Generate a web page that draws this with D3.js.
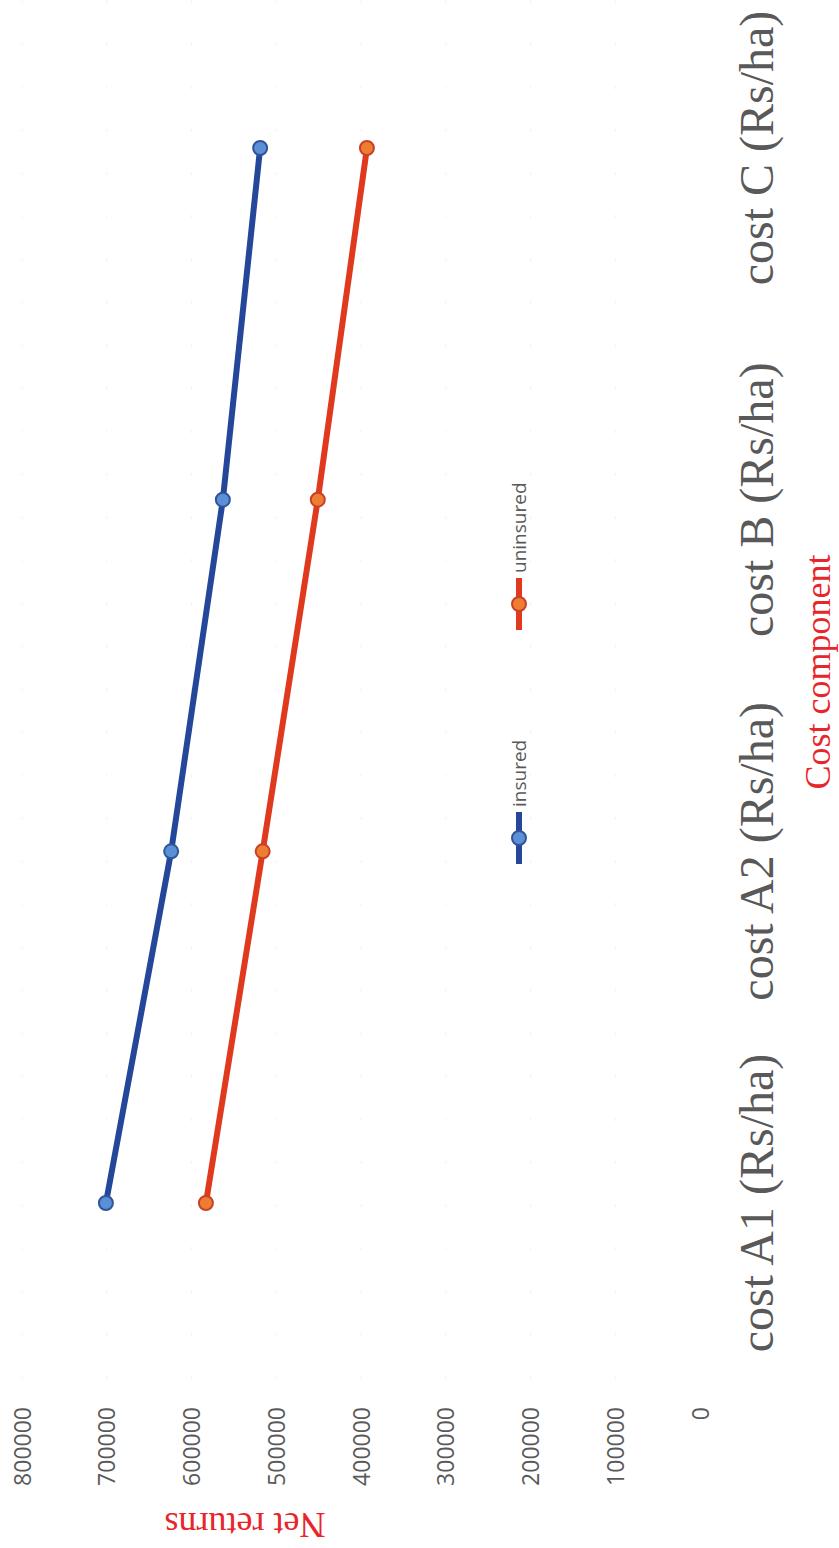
<!DOCTYPE html>
<html>
<head>
<meta charset="utf-8">
<script src="https://cdn.jsdelivr.net/npm/d3@7"></script>
<style>
html,body{margin:0;padding:0;background:#fff;}
svg{display:block;}
</style>
</head>
<body>
<svg id="chart" width="839" height="1548"></svg>
<script>
// Data
const categories = ["cost A1 (Rs/ha)", "cost A2 (Rs/ha)", "cost B (Rs/ha)", "cost C (Rs/ha)"];
const insured = [701000, 624000, 563000, 519000];
const uninsured = [583000, 516000, 451000, 393000];
const seriesNames = ["insured", "uninsured"];
const tickValues = [0, 100000, 200000, 300000, 400000, 500000, 600000, 700000, 800000];
const valueTitle = "Net returns";
const categoryTitle = "Cost component";

const svg = d3.select("#chart");
svg.append("rect").attr("width", 839).attr("height", 1548).attr("fill", "#fff");

// The chart is shown rotated 90° counter-clockwise: values run right-to-left, categories bottom-to-top
const vScale = d3.scaleLinear().domain([0, 800000]).range([700, 22]);
const cScale = d3.scalePoint().domain(categories).range([1203, 148]);

// faint gridlines
svg.append("g").selectAll("line").data(tickValues.slice(1)).join("line")
  .attr("x1", d => vScale(d)).attr("x2", d => vScale(d))
  .attr("y1", 0).attr("y2", 1380)
  .attr("stroke", "#f2f2f2").attr("stroke-width", 1).attr("stroke-dasharray", "3,40");

// value axis tick labels
const axis = d3.axisBottom(vScale).tickValues(tickValues).tickSize(0).tickFormat(d3.format("d"));
const axG = svg.append("g").attr("transform", "translate(0,1407)").call(axis);
axG.select(".domain").remove();
axG.selectAll("text")
  .attr("transform", "rotate(-90)")
  .attr("x", 0).attr("y", 0).attr("dy", "0.35em")
  .attr("text-anchor", "end")
  .style("font-family", "'Open Sans', sans-serif")
  .style("font-size", "23px")
  .attr("fill", "#595959");

// category labels
svg.append("g").selectAll("text").data(categories).join("text")
  .attr("transform", d => `translate(773,${cScale(d)}) rotate(-90)`)
  .attr("text-anchor", "middle")
  .style("font-family", "'Liberation Serif', 'Times New Roman', serif")
  .style("font-size", "48px")
  .attr("fill", "#595959")
  .text(d => d);

// titles
svg.append("text")
  .attr("transform", "translate(245,1513) rotate(180)")
  .attr("text-anchor", "middle")
  .style("font-family", "'Liberation Serif', serif")
  .style("font-size", "36px")
  .attr("fill", "#e8262a")
  .text(valueTitle);

svg.append("text")
  .attr("transform", "translate(830,672) rotate(-90)")
  .attr("text-anchor", "middle")
  .style("font-family", "'Liberation Serif', serif")
  .style("font-size", "36px")
  .attr("fill", "#e8262a")
  .attr("xml:space", "preserve")
  .text(categoryTitle);

// series
const styles = {
  insured: {line: "#24479a", fill: "#5b8fd6", stroke: "#2f5597"},
  uninsured: {line: "#e03a1e", fill: "#ed7d31", stroke: "#c8402a"}
};
const seriesData = [
  {name: seriesNames[0], values: insured},
  {name: seriesNames[1], values: uninsured}
];
const line = d3.line().x(d => vScale(d.v)).y(d => cScale(d.c));

seriesData.forEach(s => {
  const pts = s.values.map((v, i) => ({v, c: categories[i]}));
  const st = styles[s.name];
  svg.append("path").datum(pts)
    .attr("d", line)
    .attr("fill", "none")
    .attr("stroke", st.line)
    .attr("stroke-width", 6)
    .attr("stroke-linejoin", "round")
    .attr("stroke-linecap", "round");
  svg.append("g").selectAll("circle").data(pts).join("circle")
    .attr("cx", d => vScale(d.v)).attr("cy", d => cScale(d.c))
    .attr("r", 7)
    .attr("fill", st.fill)
    .attr("stroke", st.stroke)
    .attr("stroke-width", 2);
});

// legend (rotated)
const legendPos = {insured: 838, uninsured: 604};
seriesData.forEach(s => {
  const st = styles[s.name];
  const cy = legendPos[s.name];
  const g = svg.append("g");
  g.append("line")
    .attr("x1", 519).attr("x2", 519).attr("y1", cy - 26).attr("y2", cy + 26)
    .attr("stroke", st.line).attr("stroke-width", 6);
  g.append("circle").attr("cx", 519).attr("cy", cy).attr("r", 7)
    .attr("fill", st.fill).attr("stroke", st.stroke).attr("stroke-width", 2);
  g.append("text")
    .attr("transform", `translate(519,${cy - 31}) rotate(-90)`)
    .attr("dy", "0.35em")
    .attr("text-anchor", "start")
    .style("font-family", "'Open Sans', sans-serif")
    .style("font-size", "19px")
    .attr("fill", "#595959")
    .text(s.name);
});
</script>
</body>
</html>
